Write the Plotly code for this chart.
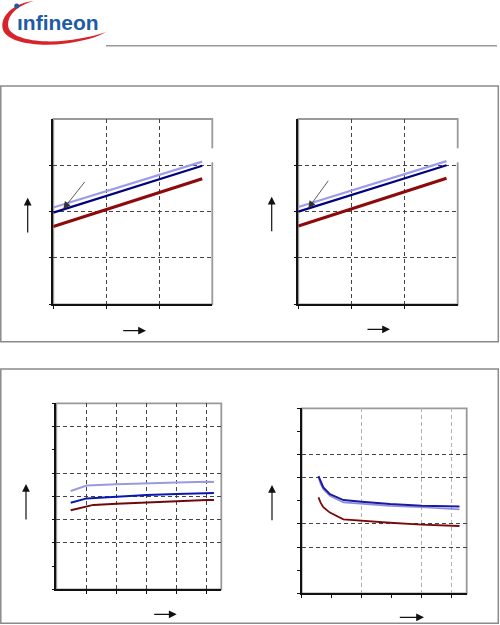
import plotly.graph_objects as go

W, H = 500, 625

# top charts: straight characteristics, start and end points
x_top = [0.0, 2.81]
light_tl = [2.09, 3.08]
navy_tl = [1.98, 2.99]
red_tl = [1.68, 2.71]

x_top_r = [0.0, 2.79]
light_tr = [2.10, 3.09]
navy_tr = [2.00, 3.00]
red_tr = [1.69, 2.72]

# bottom left chart
x_bl = [9.6, 20.3, 40.3, 60.3, 80.3, 100.3, 105.1]
light_bl = [4.23, 4.46, 4.52, 4.54, 4.59, 4.63, 4.61]
blue_bl = [3.72, 3.91, 3.98, 4.06, 4.10, 4.14, 4.14]
x_bl_red = [9.6, 24.7, 40.3, 60.3, 80.3, 100.3, 105.1]
red_bl = [3.40, 3.63, 3.68, 3.74, 3.80, 3.84, 3.84]

# bottom right chart
x_br = [0.56, 0.63, 0.72, 0.94, 1.39, 2.0, 2.94, 4.0, 5.26]
blue_br = [5.07, 4.83, 4.58, 4.29, 4.03, 3.96, 3.86, 3.79, 3.75]
light_br = [5.01, 4.73, 4.50, 4.21, 3.93, 3.86, 3.78, 3.72, 3.63]
red_br = [4.15, 3.92, 3.72, 3.49, 3.20, 3.13, 3.05, 2.97, 2.91]


def px(x):
    return x / W


def py(y):
    return 1 - y / H


fig = go.Figure()

traces = [
    (x_top, light_tl, "#9c9ce8", 2.2, "x", "y"),
    (x_top, navy_tl, "#000080", 2.2, "x", "y"),
    (x_top, red_tl, "#8e0a0a", 3.2, "x", "y"),
    (x_top_r, light_tr, "#9c9ce8", 2.2, "x2", "y2"),
    (x_top_r, navy_tr, "#000080", 2.2, "x2", "y2"),
    (x_top_r, red_tr, "#8e0a0a", 3.2, "x2", "y2"),
    (x_bl, light_bl, "#9a9ae0", 2, "x3", "y3"),
    (x_bl, blue_bl, "#0a18b0", 2, "x3", "y3"),
    (x_bl_red, red_bl, "#6e0a0a", 2, "x3", "y3"),
    (x_br, light_br, "#8c8cdc", 1.6, "x4", "y4"),
    (x_br, blue_br, "#1a1aa0", 2, "x4", "y4"),
    (x_br, red_br, "#7a0a0a", 1.8, "x4", "y4"),
]
for xs, ys, color, width, xa, ya in traces:
    fig.add_trace(go.Scatter(x=xs, y=ys, mode="lines", line={"color": color, "width": width},
                             xaxis=xa, yaxis=ya, showlegend=False, hoverinfo="skip"))

common = dict(showticklabels=False, zeroline=False, showline=True, linecolor="#111", linewidth=1.5,
              ticks="outside", ticklen=3, tickcolor="#111", griddash="4px,3px", gridcolor="#444",
              gridwidth=1, showgrid=True)
minor = dict(dtick=1, tick0=0, ticks="outside", ticklen=3, tickcolor="#111", showgrid=False)

fig.update_layout(
    width=W, height=H, margin=dict(l=0, r=0, t=0, b=0),
    paper_bgcolor="white", plot_bgcolor="white",
    xaxis=dict(domain=[px(53.3), px(212.3)], range=[0, 3], tickvals=[0, 1, 2], anchor="y", **common),
    yaxis=dict(domain=[py(304.3), py(119)], range=[0, 4], tickvals=[0, 1, 2, 3], anchor="x", **common),
    xaxis2=dict(domain=[px(298.3), px(457.7)], range=[0, 3], tickvals=[0, 1, 2], anchor="y2", **common),
    yaxis2=dict(domain=[py(304.3), py(119)], range=[0, 4], tickvals=[0, 1, 2, 3], anchor="x2", **common),
    xaxis3=dict(domain=[px(56.3), px(221.3)], range=[0, 110], tickvals=[20, 40, 60, 80, 100],
                anchor="y3", **common),
    yaxis3=dict(domain=[py(589.3), py(403.3)], range=[0, 8], tickvals=[2, 3, 4, 5, 7], minor=minor,
                anchor="x3", **common),
    xaxis4=dict(domain=[px(301.7), px(466.7)], range=[0, 5.5], tickvals=[2, 4, 5], minor=minor,
                anchor="y4", **{**common, "gridcolor": "#b0b0b0"}),
    yaxis4=dict(domain=[py(593.3), py(408.3)], range=[0, 8], tickvals=[2, 3, 5, 6], minor=minor,
                anchor="x4", **common),
)

shapes = []
# plot frames (grey top/right)
for xa, ya in [("x", "y"), ("x2", "y2"), ("x3", "y3"), ("x4", "y4")]:
    shapes.append(dict(type="rect", xref=f"{xa} domain", yref=f"{ya} domain", x0=0, x1=1, y0=0, y1=1,
                       line={"color": "#999", "width": 1.8}, layer="below"))
# outer boxes
shapes.append(dict(type="rect", xref="paper", yref="paper", x0=px(0.8), x1=px(498.3), y0=py(341.7),
                   y1=py(86), line={"color": "#8a8a8a", "width": 1.5}))
shapes.append(dict(type="rect", xref="paper", yref="paper", x0=px(0.8), x1=px(498.3), y0=py(623.3),
                   y1=py(369), line={"color": "#8a8a8a", "width": 1.5}))
# header rule
shapes.append(dict(type="line", xref="paper", yref="paper", x0=px(106), x1=px(497), y0=py(45.7),
                   y1=py(45.7), line={"color": "#9a9a9a", "width": 1.5}))
# blanked label spots
for x0, x1 in [(210.5, 214.5), (455.8, 459.8)]:
    shapes.append(dict(type="rect", xref="paper", yref="paper", x0=px(x0), x1=px(x1), y0=py(162.3),
                       y1=py(148.3), fillcolor="white", line={"width": 0}))


def path(cmds):
    out = []
    for c, pts in cmds:
        out.append(c + " " + " ".join(f"{px(a):.5f},{py(b):.5f}" for a, b in pts))
    return " ".join(out) + " Z"


swoosh = path([
    ("M", [(34, 1)]),
    ("C", [(12, 3), (-1, 18), (3, 30)]),
    ("C", [(8, 43), (38, 47), (66, 43.5)]),
    ("C", [(84, 41), (98, 37), (106, 32)]),
    ("C", [(96, 35.5), (84, 38.5), (66, 40.5)]),
    ("C", [(40, 43.5), (14, 39), (9, 29)]),
    ("C", [(5, 19), (14, 6), (34, 1)]),
])
shapes.append(dict(type="path", xref="paper", yref="paper", path=swoosh, fillcolor="#d8232a",
                   line={"width": 0}))
shapes.append(dict(type="circle", xref="paper", yref="paper", x0=px(14.2), x1=px(19.2), y0=py(8.5),
                   y1=py(3.5), fillcolor="#1e5aa5", line={"width": 0}))
fig.update_layout(shapes=shapes)

annotations = [dict(text="<b>ınfineon</b>", x=px(14.5), y=py(22.5), xref="paper", yref="paper",
                    xanchor="left", yanchor="middle", showarrow=False,
                    font={"family": "Liberation Sans Narrow, Liberation Sans", "size": 21,
                          "color": "#1e5aa5"})]


def arrow(x0, y0, x1, y1, color="#111", width=1.2, size=1.3):
    return dict(text="", x=px(x1), y=py(y1), xref="paper", yref="paper", ax=x0 - x1, ay=y0 - y1,
                axref="pixel", ayref="pixel", showarrow=True, arrowhead=2, arrowsize=size,
                arrowwidth=width, arrowcolor=color)


annotations += [
    arrow(27.7, 234, 27.7, 197.7), arrow(121.7, 330.7, 146, 330.7),
    arrow(271.7, 232.7, 271.7, 196.7), arrow(366, 329.3, 390, 329.3),
    arrow(26, 521, 26, 484), arrow(152.7, 614.3, 176.7, 614.3),
    arrow(272, 521.7, 272, 485), arrow(398.3, 617.3, 424, 617.3),
    arrow(86, 180.3, 63.3, 209, color="#333", width=0.8, size=1.8),
    arrow(329.3, 179.3, 308.3, 208.3, color="#333", width=0.8, size=1.8),
]
fig.update_layout(annotations=annotations)

fig.write_html("out.html", config={"displayModeBar": False},
               post_script="document.body.style.margin='0px';")
